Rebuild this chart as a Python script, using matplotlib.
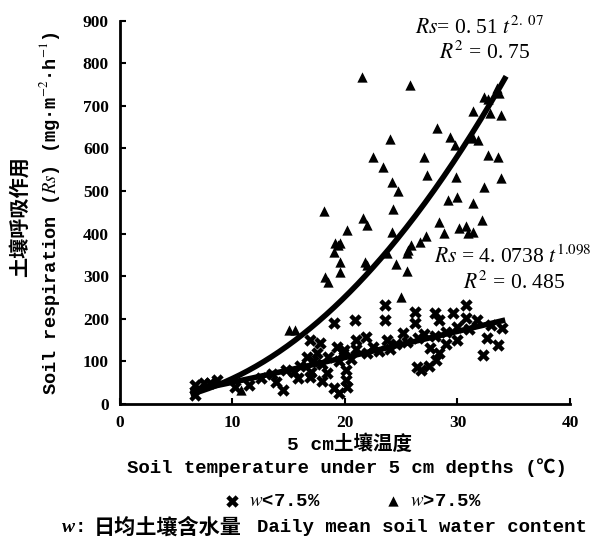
import numpy as np
import matplotlib
matplotlib.use("Agg")
import matplotlib.pyplot as plt

plt.rcParams['mathtext.fontset'] = 'stix'

# w > 7.5 %  (triangles)
wet_t = [21.5, 25.8, 24.0, 22.5, 23.4, 24.2, 24.7, 24.3, 21.6, 22.0,
         20.2, 24.2, 19.6, 19.1, 19.4, 19.0, 19.6, 19.6, 18.2, 18.5,
         18.1, 21.8, 22.0, 24.5, 25.5, 25.0, 23.7, 25.5, 25.6, 25.9,
         26.7, 27.2, 28.2, 29.3, 29.8, 27.0, 27.3, 29.9, 31.4, 32.7,
         33.7, 33.9, 32.9, 31.4, 31.8, 32.7, 33.6, 33.9, 32.4, 31.4,
         29.2, 30.0, 32.2, 28.4, 28.8, 30.1, 30.8, 31.4, 30.9, 15.0,
         15.6, 10.8, 33.5, 32.4]
wet_rs = [768, 750, 623, 581, 556, 522, 499, 458, 436, 421,
          409, 405, 378, 379, 374, 358, 333, 311, 298, 287,
          454, 334, 327, 329, 313, 252, 354, 354, 362, 374,
          381, 395, 648, 627, 609, 581, 538, 533, 687, 716,
          730, 679, 683, 624, 620, 585, 581, 530, 509, 472,
          478, 487, 432, 428, 401, 413, 417, 405, 402, 174,
          174, 33, 742, 721]

# w < 7.5 %  (crosses)
dry_t = [6.7, 6.7, 8.6, 7.5, 14.5, 13.9, 14.8, 16.9, 17.8, 19.3,
         16.6, 16.9, 18.4, 19.0, 19.8, 19.0, 20.9, 23.6, 23.6, 26.2,
         26.2, 28.0, 28.4, 29.6, 30.8, 30.8, 31.7, 34.0, 32.6, 33.6,
         32.3, 26.4, 26.8, 28.4, 28.1, 27.6, 25.2, 23.7, 21.9, 21.0,
         19.9, 20.1, 20.1, 12.5, 13.5, 15.5, 16.0, 17.2, 17.5, 18.0,
         18.5, 19.5, 20.5, 21.0, 22.0, 22.5, 23.0, 24.0, 24.5, 25.5,
         26.5, 27.0, 28.0, 29.0, 30.0, 31.0, 33.0, 20.2, 19.5, 18.0,
         27.5, 29.0, 30.0, 17.0, 15.8, 11.5, 10.2, 8.0]
dry_rs = [44, 21, 56, 50, 33, 52, 80, 150, 143, 135,
          111, 64, 72, 37, 120, 190, 197, 233, 197, 217,
          190, 213, 197, 213, 233, 201, 197, 178, 154, 139,
          115, 88, 80, 119, 103, 131, 166, 150, 158, 150,
          127, 56, 80, 60, 70, 75, 90, 100, 120, 95,
          110, 100, 105, 130, 120, 135, 125, 130, 140, 145,
          155, 165, 160, 170, 180, 175, 185, 40, 25, 55,
          90, 140, 150, 75, 60, 45, 40, 50]

# fitted power laws  Rs = a * t^b
fit_wet = (0.51, 2.07)
fit_dry = (4.0738, 1.098)

mono = ['Liberation Mono', 'Noto Sans CJK SC', 'DejaVu Sans']
serif = ['Liberation Serif', 'DejaVu Serif']

fig = plt.figure(figsize=(5.92, 5.42), dpi=100)
ax = fig.add_axes([0.2027, 0.2546, 0.7601, 0.7072])

ax.scatter(dry_t, dry_rs, marker='X', s=80, c='black', linewidths=0, label=r'$\mathit{w}$<7.5%', zorder=3)
ax.scatter(wet_t, wet_rs, marker='^', s=55, c='black', linewidths=0, label=r'$\mathit{w}$>7.5%', zorder=3)

tt = np.linspace(6.5, 34.2, 200)
ax.plot(tt, fit_wet[0] * tt ** fit_wet[1], color='black', lw=4, zorder=4)
tt2 = np.linspace(6.5, 34.0, 200)
ax.plot(tt2, fit_dry[0] * tt2 ** fit_dry[1], color='black', lw=4, zorder=4)

ax.set_xlim(0, 40)
ax.set_ylim(0, 900)
ax.set_xticks([0, 10, 20, 30, 40])
ax.set_yticks(range(0, 901, 100))
ax.spines['top'].set_visible(False)
ax.spines['right'].set_visible(False)
ax.spines['left'].set_linewidth(2)
ax.spines['bottom'].set_linewidth(2)
ax.tick_params(direction='in', length=4, width=1.5, pad=8)
for lab in ax.get_xticklabels() + ax.get_yticklabels():
    lab.set_family(serif)
    lab.set_fontsize(12.5)
    lab.set_fontweight('bold')

ax.text(32.0, 883, r'$Rs$= 0. 51 $t^{2.\ 07}$', fontsize=15.5, ha='center', va='center',
        family=serif, clip_on=False)
ax.text(32.4, 825, r'$R^{2}$ = 0. 75', fontsize=15.5, ha='center', va='center', family=serif)
ax.text(34.9, 345, r'$Rs$ = 4. 0738 $t^{1.098}$', fontsize=15.5, ha='center', va='center',
        family=serif, clip_on=False)
ax.text(35.0, 284, r'$R^{2}$ = 0. 485', fontsize=15.5, ha='center', va='center', family=serif)

fig.text(0.034, 0.600, '土壤呼吸作用', rotation=90, ha='center', va='center',
         fontsize=14.5, fontweight='bold', family=mono)
fig.text(0.084, 0.607, r'Soil respiration ($\mathit{Rs}$) (mg·m$^{-2}$·h$^{-1}$)', rotation=90,
         ha='center', va='center', fontsize=13.4, fontweight='bold', family=mono)

fig.text(0.59, 1 - 444 / 542, '5 cm土壤温度', ha='center', va='center', fontsize=14,
         fontweight='bold', family=mono)
fig.text(0.586, 1 - 468 / 542, 'Soil temperature under 5 cm depths (℃)', ha='center', va='center',
         fontsize=13.7, fontweight='bold', family=mono)

fig.legend(loc='center', bbox_to_anchor=(0.593, 1 - 501 / 542), ncol=2, frameon=False,
           handletextpad=0.3, handlelength=1.2, columnspacing=3.2, markerscale=1.0,
           prop={'family': mono, 'size': 13.7, 'weight': 'bold'})

yb = 1 - 527 / 542
fig.text(62 / 592, yb, 'w', ha='left', va='center', fontsize=14, fontweight='bold',
         style='italic', family=serif)
fig.text(75 / 592, yb, ':', ha='left', va='center', fontsize=13.7, fontweight='bold', family=mono)
fig.text(94 / 592, yb, '日均土壤含水量', ha='left', va='center', fontsize=15.2,
         fontweight='bold', family=mono)
fig.text(257 / 592, yb, 'Daily mean soil water content', ha='left', va='center',
         fontsize=13.7, fontweight='bold', family=mono)

fig.savefig('out.png', dpi=100)
